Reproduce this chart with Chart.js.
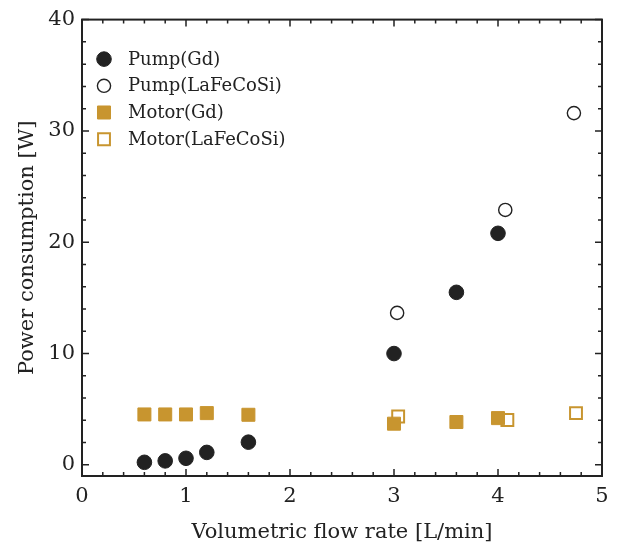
<!DOCTYPE html>
<html>
<head>
<meta charset="utf-8">
<script src="https://cdn.jsdelivr.net/npm/chart.js@4.4.0/dist/chart.umd.min.js"></script>
<style>
  html, body { margin: 0; padding: 0; background: #fff; }
  #wrap { width: 622px; height: 549px; }
</style>
</head>
<body>
<div id="wrap"><canvas id="c"></canvas></div>
<script>
// data
const pumpGdX = [0.6, 0.8, 1.0, 1.2, 1.6, 3.0, 3.6, 4.0];
const pumpGdY = [0.23, 0.36, 0.59, 1.12, 2.04, 10.0, 15.5, 20.8];
const pumpLaX = [3.03, 4.07, 4.73];
const pumpLaY = [13.65, 22.9, 31.6];
const motorGdX = [0.6, 0.8, 1.0, 1.2, 1.6, 3.0, 3.6, 4.0];
const motorGdY = [4.53, 4.53, 4.53, 4.65, 4.5, 3.7, 3.85, 4.2];
const motorLaX = [3.04, 4.09, 4.75];
const motorLaY = [4.35, 4.03, 4.65];

const xTicks = [0, 1, 2, 3, 4, 5];
const yTicks = [0, 10, 20, 30, 40];

const black = '#222222';
const gold = '#c8952f';
const serif = "'DejaVu Serif', serif";

const pts = (xs, ys) => xs.map((x, i) => ({ x: x, y: ys[i] }));

// minor tick positions (5 per major interval)
const xMinor = [];
for (let i = 0; i < xTicks.length - 1; i++)
    for (let k = 1; k < 5; k++) xMinor.push(xTicks[i] + k * (xTicks[i + 1] - xTicks[i]) / 5);
const yMinor = [];
for (let i = 0; i < yTicks.length - 1; i++)
    for (let k = 1; k < 5; k++) yMinor.push(yTicks[i] + k * (yTicks[i + 1] - yTicks[i]) / 5);

// box + inward ticks on all four sides
const frame = {
    id: 'frame',
    beforeDatasetsDraw(chart) {
        const { ctx, chartArea: a, scales: { x, y } } = chart;
        ctx.save();
        ctx.strokeStyle = black;
        ctx.lineWidth = 1.5;
        ctx.beginPath();
        const xt = (v, len) => {
            const px = x.getPixelForValue(v);
            ctx.moveTo(px, a.bottom); ctx.lineTo(px, a.bottom - len);
            ctx.moveTo(px, a.top); ctx.lineTo(px, a.top + len);
        };
        const yt = (v, len) => {
            const py = y.getPixelForValue(v);
            ctx.moveTo(a.left, py); ctx.lineTo(a.left + len, py);
            ctx.moveTo(a.right, py); ctx.lineTo(a.right - len, py);
        };
        xTicks.forEach(v => xt(v, 7));
        xMinor.forEach(v => xt(v, 4));
        yTicks.forEach(v => yt(v, 7));
        yMinor.forEach(v => yt(v, 4));
        ctx.stroke();
        ctx.lineWidth = 2;
        ctx.strokeRect(a.left, a.top, a.right - a.left, a.bottom - a.top);
        ctx.restore();
    }
};

// legend in the upper-left of the plot
const legendBox = {
    id: 'legendBox',
    afterDatasetsDraw(chart) {
        const { ctx, chartArea: a } = chart;
        ctx.save();
        ctx.font = '18px ' + serif;
        ctx.textBaseline = 'middle';
        chart.data.datasets.forEach((ds, i) => {
            const cx = a.left + 22;
            const cy = a.top + 39.5 + i * 26.7;
            ctx.fillStyle = ds.backgroundColor;
            ctx.strokeStyle = ds.borderColor;
            ctx.lineWidth = ds.borderWidth;
            Chart.helpers.drawPoint(ctx, {
                pointStyle: ds.pointStyle, radius: ds.pointRadius,
                rotation: 0, borderWidth: ds.borderWidth
            }, cx, cy);
            ctx.fillStyle = black;
            ctx.fillText(ds.label, a.left + 46, cy + 1);
        });
        ctx.restore();
    }
};

new Chart(document.getElementById('c'), {
    type: 'scatter',
    data: {
        datasets: [
            { label: 'Pump(Gd)', data: pts(pumpGdX, pumpGdY), pointStyle: 'circle', pointRadius: 7.3,
              backgroundColor: black, borderColor: black, borderWidth: 1 },
            { label: 'Pump(LaFeCoSi)', data: pts(pumpLaX, pumpLaY), pointStyle: 'circle', pointRadius: 6.6,
              backgroundColor: '#ffffff', borderColor: black, borderWidth: 1.4 },
            { label: 'Motor(Gd)', data: pts(motorGdX, motorGdY), pointStyle: 'rect', pointRadius: 9.2,
              backgroundColor: gold, borderColor: gold, borderWidth: 1 },
            { label: 'Motor(LaFeCoSi)', data: pts(motorLaX, motorLaY), pointStyle: 'rect', pointRadius: 8.4,
              backgroundColor: '#ffffff', borderColor: gold, borderWidth: 2 }
        ]
    },
    options: {
        responsive: true,
        maintainAspectRatio: false,
        animation: false,
        layout: { padding: { left: 0, top: 14, right: 20, bottom: 0 } },
        plugins: {
            legend: { display: false },
            tooltip: { enabled: false }
        },
        elements: { point: { hoverRadius: 7 } },
        scales: {
            x: {
                type: 'linear', min: 0, max: 5,
                afterBuildTicks: s => { s.ticks = xTicks.map(v => ({ value: v })); },
                afterFit: s => { s.height = 73; },
                grid: { display: false, drawTicks: false },
                border: { display: false },
                ticks: { padding: 8, color: black, font: { family: serif, size: 21 } },
                title: { display: true, text: 'Volumetric flow rate [L/min]', color: black,
                         font: { family: serif, size: 21 }, padding: { top: 0, bottom: 4 } }
            },
            y: {
                type: 'linear', min: -1, max: 40,
                afterBuildTicks: s => { s.ticks = yTicks.map(v => ({ value: v })); },
                afterFit: s => { s.width = 82; },
                grid: { display: false, drawTicks: false },
                border: { display: false },
                ticks: { padding: 7, color: black, font: { family: serif, size: 21 } },
                title: { display: true, text: 'Power consumption [W]', color: black,
                         font: { family: serif, size: 21 }, padding: { top: 15, bottom: 0 } }
            }
        }
    },
    plugins: [frame, legendBox]
});
</script>
</body>
</html>
